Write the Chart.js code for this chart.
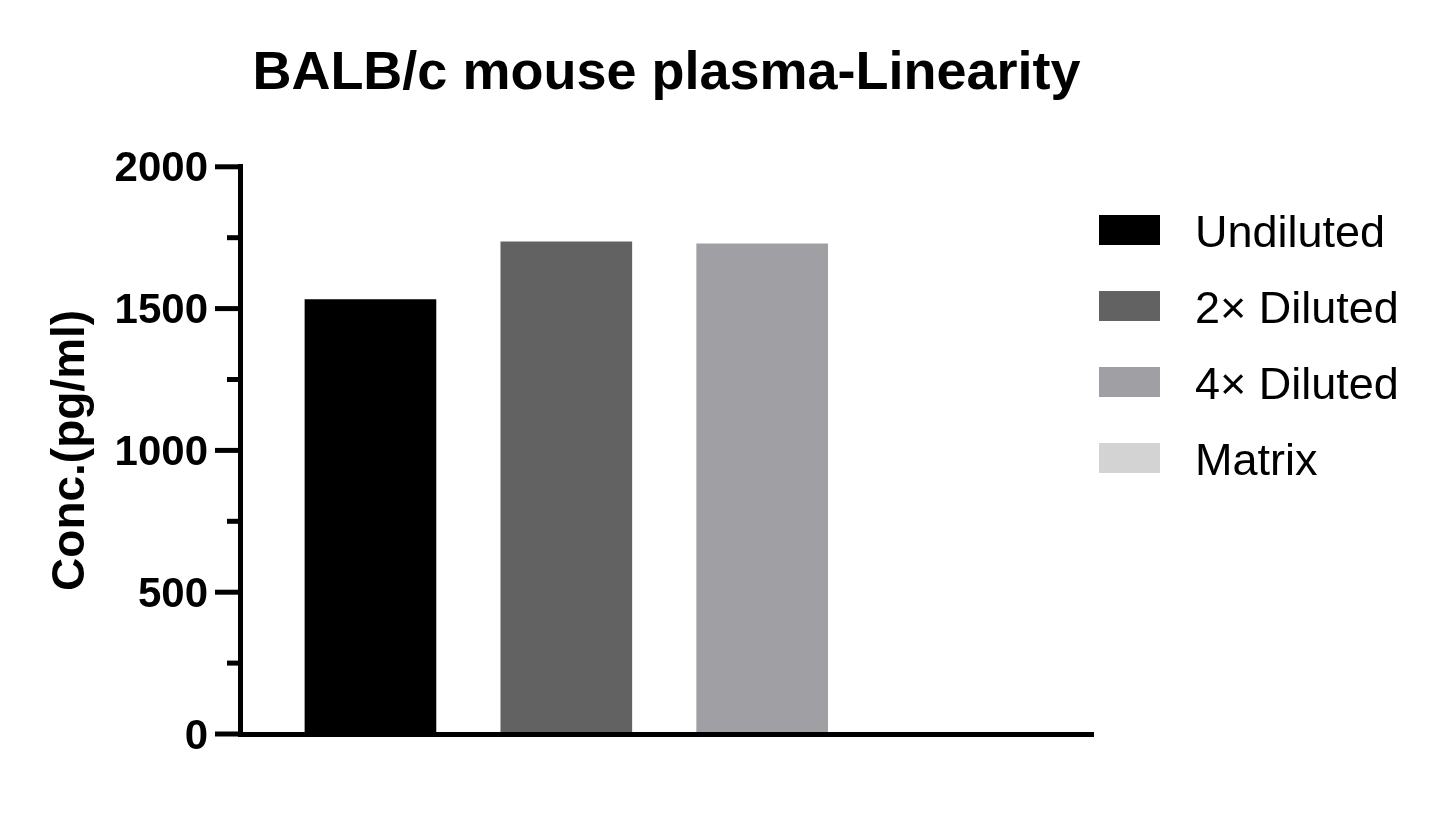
<!DOCTYPE html>
<html>
<head>
<meta charset="utf-8">
<title>BALB/c mouse plasma-Linearity</title>
<script src="https://cdn.jsdelivr.net/npm/chart.js@4.4.1/dist/chart.umd.min.js"></script>
<style>
    html, body { margin: 0; padding: 0; background: #fff; }
    #chart { display: block; }
</style>
</head>
<body>
<canvas id="chart" width="1445" height="825"></canvas>
<script>
// Chart data
// ==========
const chartTitle = 'BALB/c mouse plasma-Linearity';
const yAxisTitle = 'Conc.(pg/ml)';
const categories = ['Undiluted', '2× Diluted', '4× Diluted', 'Matrix'];
const concValues = [1532, 1735, 1728, 0];
const yTickValues = [0, 250, 500, 750, 1000, 1250, 1500, 1750, 2000];
const yTickLabels = ['0', '', '500', '', '1000', '', '1500', '', '2000'];

// Styling
const barColors = ['#000000', '#626262', '#a0a0a4', '#d3d3d3'];
const FONT = "'Liberation Sans', Arial, Helvetica, sans-serif";

// Tick marks: long for labelled values, short for the in-between ones
const tickMarks = {
    id: 'tickMarks',
    afterDraw(chart) {
        const ctx = chart.ctx;
        const y = chart.scales.y;
        const axisX = chart.chartArea.left;
        ctx.save();
        ctx.strokeStyle = '#000';
        ctx.lineWidth = 5;
        yTickValues.forEach((v, i) => {
            const py = y.getPixelForValue(v);
            const len = yTickLabels[i] ? 25 : 13;
            ctx.beginPath();
            ctx.moveTo(axisX - len, py);
            ctx.lineTo(axisX, py);
            ctx.stroke();
        });
        ctx.restore();
    }
};

// Legend on the right, drawn from the datasets
const sideLegend = {
    id: 'sideLegend',
    afterDraw(chart) {
        const ctx = chart.ctx;
        ctx.save();
        ctx.font = `45px ${FONT}`;
        ctx.textBaseline = 'middle';
        ctx.textAlign = 'left';
        chart.data.datasets.forEach((ds, i) => {
            const cy = 230 + i * 76;
            ctx.fillStyle = ds.backgroundColor;
            ctx.fillRect(1099, cy - 15, 61, 30);
            ctx.fillStyle = '#000';
            ctx.fillText(ds.label, 1195, cy + 5);
        });
        ctx.restore();
    }
};

const ctx = document.getElementById('chart').getContext('2d');
new Chart(ctx, {
    type: 'bar',
    data: {
        datasets: categories.map((name, i) => ({
            label: name,
            data: [{ x: i, y: concValues[i] }],
            backgroundColor: barColors[i],
            borderWidth: 0,
            barThickness: 131,
            grouped: false
        }))
    },
    options: {
        responsive: false,
        animation: false,
        layout: { padding: { left: 0, right: 352, top: 0, bottom: 91 } },
        plugins: {
            legend: { display: false },
            tooltip: { enabled: false },
            title: {
                display: true,
                text: chartTitle,
                fullSize: false,
                color: '#000',
                font: { family: FONT, size: 54, weight: 'bold', lineHeight: 1.2 },
                padding: { top: 42, bottom: 60 }
            }
        },
        scales: {
            x: {
                type: 'linear',
                offset: false,
                min: -0.666,
                max: 3.689,
                ticks: { display: false },
                grid: { display: false },
                border: { display: true, color: '#000', width: 5, z: 1 },
                afterFit: (s) => { s.height = 0; }
            },
            y: {
                min: 0,
                max: 2000,
                afterBuildTicks: (s) => { s.ticks = yTickValues.map(v => ({ value: v })); },
                ticks: {
                    color: '#000',
                    padding: 32,
                    labelOffset: 3,
                    font: { family: FONT, size: 42, weight: 'bold' },
                    callback: (v) => yTickLabels[yTickValues.indexOf(v)] || ''
                },
                grid: { display: true, drawOnChartArea: false, drawTicks: false },
                border: { display: true, color: '#000', width: 5 },
                title: {
                    display: true,
                    text: yAxisTitle,
                    color: '#000',
                    font: { family: FONT, size: 46, weight: 'bold', lineHeight: 1.2 },
                    padding: { top: 44, bottom: 0 }
                },
                afterFit: (s) => { s.width = 240; }
            }
        }
    },
    plugins: [tickMarks, sideLegend]
});
</script>
</body>
</html>
